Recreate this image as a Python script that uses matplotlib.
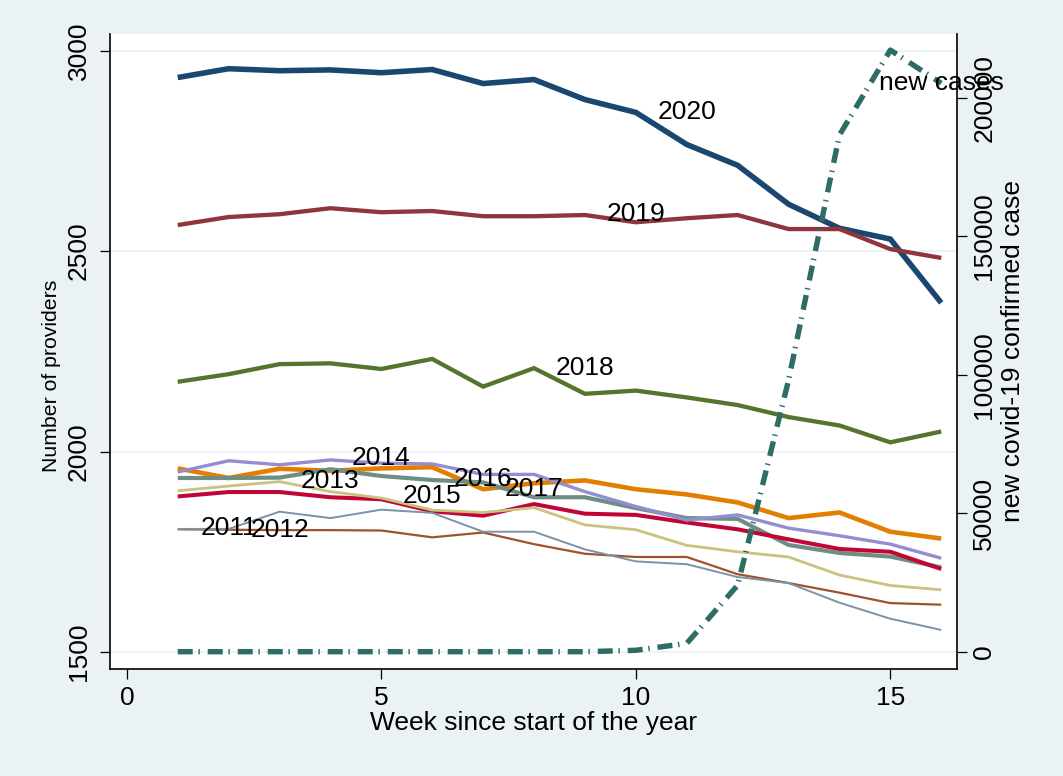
import matplotlib
matplotlib.use('Agg')
import matplotlib.pyplot as plt

plt.rcParams['font.family'] = ['Liberation Sans', 'DejaVu Sans']
plt.rcParams['lines.scale_dashes'] = False

weeks = list(range(1, 17))

# number of providers per week, one list per year
y2020 = [2933, 2955, 2950, 2952, 2945, 2953, 2918, 2928, 2878, 2846, 2766, 2714, 2617, 2557, 2530, 2371]
y2019 = [2565, 2585, 2592, 2607, 2597, 2600, 2587, 2587, 2590, 2572, 2582, 2590, 2555, 2555, 2505, 2483]
y2018 = [2174, 2193, 2218, 2220, 2206, 2231, 2162, 2208, 2144, 2152, 2135, 2116, 2086, 2065, 2023, 2050]
y2017 = [1958, 1934, 1957, 1952, 1958, 1961, 1906, 1921, 1928, 1906, 1893, 1873, 1834, 1848, 1800, 1783]
y2016 = [1934, 1934, 1935, 1956, 1939, 1929, 1923, 1886, 1886, 1859, 1834, 1832, 1767, 1747, 1738, 1711]
y2015 = [1888, 1899, 1899, 1886, 1881, 1851, 1840, 1869, 1845, 1842, 1823, 1806, 1781, 1757, 1750, 1707]
y2014 = [1949, 1977, 1967, 1979, 1971, 1969, 1943, 1943, 1900, 1863, 1829, 1842, 1809, 1790, 1769, 1734]
y2013 = [1902, 1914, 1925, 1900, 1884, 1854, 1848, 1860, 1817, 1805, 1766, 1750, 1737, 1692, 1666, 1655]
y2012 = [1806, 1805, 1804, 1804, 1803, 1786, 1798, 1769, 1745, 1737, 1737, 1694, 1672, 1648, 1622, 1618]
y2011 = [1807, 1807, 1850, 1834, 1855, 1847, 1800, 1800, 1756, 1726, 1719, 1687, 1672, 1623, 1583, 1555]

new_cases = [0, 0, 0, 0, 0, 0, 0, 0, 0, 500, 3000, 24000, 98000, 186600, 217300, 205300]

years = ['2020', '2019', '2018', '2017', '2016', '2015', '2014', '2013', '2012', '2011']
series = [y2020, y2019, y2018, y2017, y2016, y2015, y2014, y2013, y2012, y2011]
colors = ['#1a476f', '#90353b', '#55752f', '#e37e00', '#6e8e84',
          '#c10534', '#938dd2', '#cac27e', '#a0522d', '#7b92a8']
widths = [4.0, 3.1, 3.1, 3.3, 3.0, 2.9, 2.4, 2.0, 1.6, 1.4]

# where the year labels sit (week, value at baseline)
label_x = [11, 10, 9, 8, 7, 6, 5, 4, 3, 2]
label_y = [2830, 2574, 2191, 1888, 1914, 1871, 1966, 1909, 1788, 1792]

bg = '#eaf2f3'
fig = plt.figure(figsize=(10.63, 7.76), dpi=100, facecolor=bg)
ax = fig.add_axes([0.1035, 0.1379, 0.7968, 0.8183])
ax.set_facecolor('white')

ax.yaxis.grid(True, color=bg, lw=1.3)
ax.set_axisbelow(True)

for ys, c, lw in zip(series, colors, widths):
  ax.plot(weeks, ys, color=c, lw=lw, solid_capstyle='butt', solid_joinstyle='miter')

for name, lx, ly in zip(years, label_x, label_y):
  ax.text(lx, ly, name, fontsize=19, ha='center', va='baseline')

ax.set_xlim(-0.33, 16.31)
ax.set_ylim(1457.6, 3041.6)
ax.set_xticks([0, 5, 10, 15])
ax.set_yticks([1500, 2000, 2500, 3000])
ax.tick_params(axis='both', length=7.5, width=0.9, labelsize=19)
ax.tick_params(axis='x', pad=5)
ax.tick_params(axis='y', pad=6.5, labelrotation=90)
for lab in ax.get_yticklabels():
  lab.set_va('center')
ax.set_xlabel('Week since start of the year', fontsize=19, labelpad=0.5)
ax.set_ylabel('Number of providers', fontsize=15.3, labelpad=2)
ax.yaxis.set_label_coords(-0.058, 0.461)

ax2 = ax.twinx()
ax2.plot(weeks, new_cases, color='#2d6d66', lw=3.9, dashes=(10.8, 4.1, 1.0, 5.7))
ax2.text(16, 202900, 'new cases', fontsize=19, ha='center', va='baseline')
ax2.set_ylim(-6250, 223100)
ax2.set_yticks([0, 50000, 100000, 150000, 200000])
ax2.tick_params(axis='y', length=7.5, width=0.9, labelsize=19, pad=3.5, labelrotation=90)
for lab in ax2.get_yticklabels():
  lab.set_va('center')
ax2.set_ylabel('new covid-19 confirmed case', fontsize=19, labelpad=3.5)

for a in (ax, ax2):
  a.spines['top'].set_visible(False)
  for s in a.spines.values():
    s.set_linewidth(1.2)
ax.spines['right'].set_visible(False)
ax2.spines['left'].set_visible(False)
ax2.spines['bottom'].set_visible(False)

fig.savefig('out.png', dpi=100, facecolor=bg)
